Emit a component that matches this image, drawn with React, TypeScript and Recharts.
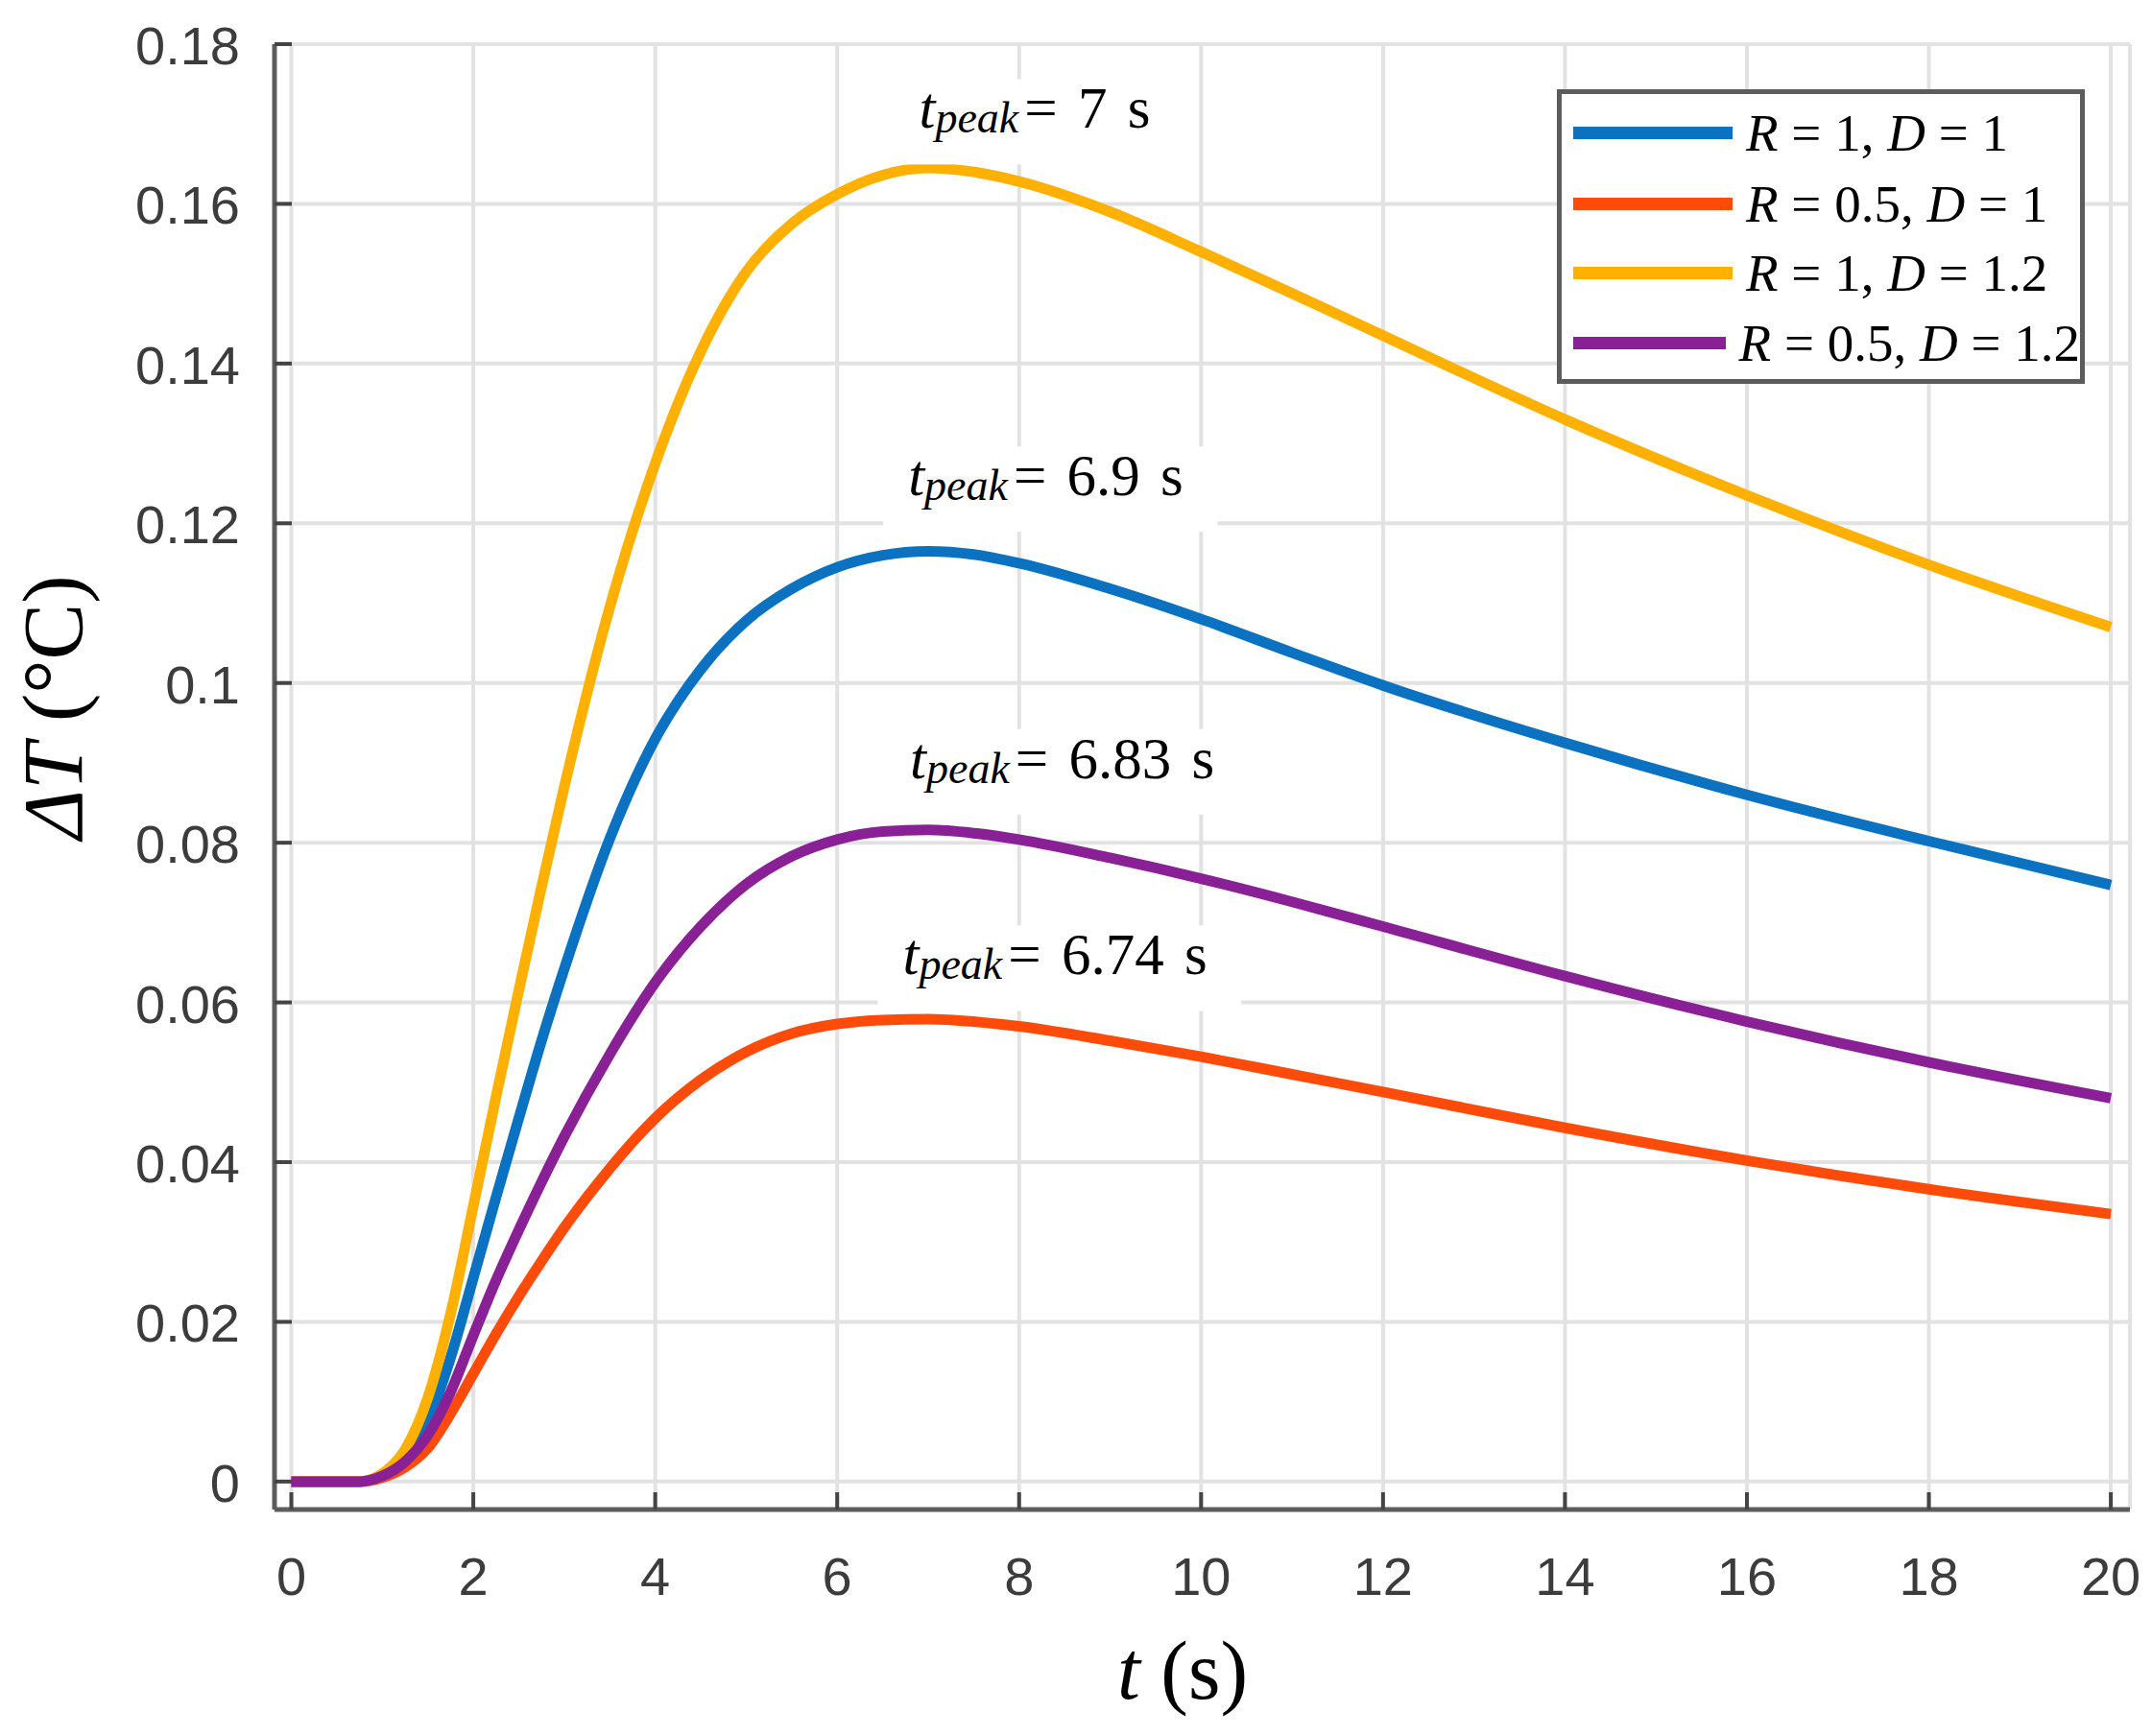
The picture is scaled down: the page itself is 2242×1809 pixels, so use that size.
import { CartesianGrid, Line, LineChart, ReferenceDot, XAxis, YAxis } from 'recharts'

// time axis (s)
const timeS = [0, 0.5, 0.75, 1, 1.25, 1.5, 1.75, 2, 2.25, 2.5, 2.75, 3, 3.5, 4, 4.5, 5, 5.5, 6, 6.5, 7, 7.5, 8, 9, 10, 11, 12, 14, 16, 18, 20]

// ΔT (°C)
const dtR1D1 = [0, 0, 0, 0.0008, 0.003, 0.0075, 0.0155, 0.0255, 0.0356, 0.0455, 0.0552, 0.0642, 0.0805, 0.093, 0.1017, 0.1078, 0.1118, 0.1145, 0.116, 0.1165, 0.1161, 0.115, 0.1118, 0.108, 0.1038, 0.0997, 0.0925, 0.086, 0.0802, 0.0747]
const dtR05D1 = [0, 0, 0, 0.0005, 0.0018, 0.0042, 0.0085, 0.0135, 0.0185, 0.0232, 0.0276, 0.0318, 0.0392, 0.0455, 0.0503, 0.0538, 0.0561, 0.0573, 0.0578, 0.0579, 0.0576, 0.057, 0.0552, 0.0532, 0.051, 0.0488, 0.0443, 0.0402, 0.0366, 0.0335]
const dtR1D12 = [0, 0, 0, 0.001, 0.004, 0.0105, 0.021, 0.0345, 0.0482, 0.0615, 0.0745, 0.087, 0.1095, 0.1275, 0.1415, 0.1515, 0.1575, 0.1612, 0.1636, 0.1645, 0.164, 0.1628, 0.159, 0.154, 0.1488, 0.1435, 0.133, 0.1235, 0.1148, 0.107]
const dtR05D12 = [0, 0, 0, 0.0007, 0.0025, 0.0058, 0.0112, 0.0183, 0.0252, 0.0315, 0.0375, 0.0432, 0.0535, 0.0625, 0.0695, 0.0748, 0.0783, 0.0804, 0.0814, 0.0816, 0.0812, 0.0804, 0.0781, 0.0755, 0.0726, 0.0695, 0.0633, 0.0576, 0.0525, 0.048]

const xTicks = [0, 2, 4, 6, 8, 10, 12, 14, 16, 18, 20]
const yTicks = [0, 0.02, 0.04, 0.06, 0.08, 0.1, 0.12, 0.14, 0.16, 0.18]

// legend parameters
const legendR = ['1', '0.5', '1', '0.5']
const legendD = ['1', '1', '1.2', '1.2']

// peak annotations
const peakLabels = ['7', '6.9', '6.83', '6.74']
const peakAnchorT = [6.9, 6.78, 6.8, 6.72]
const peakAnchorY = [0.1695, 0.1235, 0.0881, 0.0635]

const series = [
  { key: 'r1d1', values: dtR1D1, color: '#0a72c0' },
  { key: 'r05d1', values: dtR05D1, color: '#ff4b0a' },
  { key: 'r1d12', values: dtR1D12, color: '#ffb000' },
  { key: 'r05d12', values: dtR05D12, color: '#8a2096' }
]

const data = timeS.map((t, i) => {
  const row: Record<string, number> = { t }
  series.forEach((s) => {
    row[s.key] = s.values[i]
  })
  return row
})

const W = 2242
const H = 1809
const TICK_COLOR = '#3c3c3c'
const FRAME = '#5c5c5c'
const SERIF = '"Liberation Serif", "Times New Roman", serif'
const SANS = '"Liberation Sans", Arial, sans-serif'

const fmt = (v: number) => String(+v.toFixed(2))

const BottomTick = ({ x, y, payload }: any) => (
  <g>
    <line x1={x} x2={x} y1={y} y2={y - 18} stroke="#444" strokeWidth={4} />
    <text x={x} y={y + 89} textAnchor="middle" fontFamily={SANS} fontSize={56} fill={TICK_COLOR}>
      {fmt(payload.value)}
    </text>
  </g>
)

const TopTick = ({ x, y }: any) => (
  <line x1={x} x2={x} y1={y} y2={y + 18} stroke="#444" strokeWidth={4} />
)

const LeftTick = ({ x, y, payload }: any) => (
  <g>
    <line x1={x} x2={x + 18} y1={y} y2={y} stroke="#444" strokeWidth={4} />
    <text x={x - 36} y={y + 21} textAnchor="end" fontFamily={SANS} fontSize={56} fill={TICK_COLOR}>
      {fmt(payload.value)}
    </text>
  </g>
)

const RightTick = ({ x, y }: any) => (
  <line x1={x} x2={x - 18} y1={y} y2={y} stroke="#444" strokeWidth={4} />
)

const YTitle = () => (
  <text transform="translate(85, 737) rotate(-90)" textAnchor="middle" fontFamily={SERIF} fontSize={88} fill="#000">
    <tspan fontStyle="italic">ΔT</tspan> (°C)
  </text>
)

const XTitle = () => (
  <text x={1232} y={1770} textAnchor="middle" fontFamily={SERIF} fontSize={86} fill="#000">
    <tspan fontStyle="italic">t</tspan> (s)
  </text>
)

const PeakText = ({ viewBox, value }: any) => {
  const x = viewBox.x
  const y = viewBox.y
  const digits = value.replace('.', '').length
  const dots = value.includes('.') ? 1 : 0
  const width = 224 + 61 * (digits * 0.5 + dots * 0.25)
  return (
    <g>
      <rect x={x - 26} y={y - 51} width={width + 48} height={89} fill="#fff" />
      <text x={x} y={y} fontFamily={SERIF} fontSize={61} fill="#000">
        <tspan fontStyle="italic">t</tspan>
        <tspan fontStyle="italic" fontSize={46} dy={5}>peak</tspan>
        <tspan dy={-5} dx={6} wordSpacing={6}>{`= ${value} s`}</tspan>
      </text>
    </g>
  )
}

const LegendBox = () => (
  <div
    style={{
      position: 'absolute',
      left: 1622,
      top: 93,
      width: 550,
      height: 307,
      boxSizing: 'border-box',
      border: `5px solid ${FRAME}`,
      background: '#fff'
    }}
  >
    {series.map((s, i) => (
      <div
        key={s.key}
        style={{
          position: 'absolute',
          left: 0,
          top: [45, 119, 191, 264][i] - 5 - 37,
          height: 74,
          width: 540,
          display: 'flex',
          alignItems: 'center'
        }}
      >
        <div style={{ marginLeft: 12, width: 166, height: 13, background: s.color }} />
        <div style={{ marginLeft: 14, fontFamily: SERIF, fontSize: 55, color: '#000', whiteSpace: 'nowrap' }}>
          <i>R</i> = {legendR[i]}, <i>D</i> = {legendD[i]}
        </div>
      </div>
    ))}
  </div>
)

export default function App() {
  return (
    <div style={{ position: 'relative', width: W, height: H, background: '#fff' }}>
      <style>{'body{margin:0}'}</style>
      <LineChart width={W} height={H} data={data} margin={{ top: 46, right: 23, bottom: 0, left: 0 }}>
        <CartesianGrid stroke="#e2e2e2" strokeWidth={4} />
        <XAxis
          dataKey="t"
          type="number"
          domain={[-0.185, 20.21]}
          ticks={xTicks}
          height={236}
          tickSize={0}
          tickMargin={0}
          tickLine={false}
          axisLine={{ stroke: FRAME, strokeWidth: 5 }}
          tick={<BottomTick />}
          interval={0}
          allowDataOverflow
          label={<XTitle />}
        />
        <XAxis
          xAxisId="top"
          orientation="top"
          dataKey="t"
          type="number"
          domain={[-0.185, 20.21]}
          ticks={xTicks}
          height={0}
          tickSize={0}
          tickMargin={0}
          tickLine={false}
          axisLine={{ stroke: FRAME, strokeWidth: 5 }}
          tick={<TopTick />}
          interval={0}
          allowDataOverflow
        />
        <YAxis
          type="number"
          domain={[-0.0035, 0.18]}
          ticks={yTicks}
          width={286}
          tickSize={0}
          tickMargin={0}
          tickLine={false}
          axisLine={{ stroke: FRAME, strokeWidth: 5 }}
          tick={<LeftTick />}
          interval={0}
          allowDataOverflow
          label={<YTitle />}
        />
        <YAxis
          yAxisId="right"
          orientation="right"
          type="number"
          domain={[-0.0035, 0.18]}
          ticks={yTicks}
          width={0}
          tickSize={0}
          tickMargin={0}
          tickLine={false}
          axisLine={{ stroke: FRAME, strokeWidth: 5 }}
          tick={<RightTick />}
          interval={0}
          allowDataOverflow
        />
        {series.map((s) => (
          <Line
            key={s.key}
            type="monotone"
            dataKey={s.key}
            stroke={s.color}
            strokeWidth={11}
            dot={false}
            activeDot={false}
            isAnimationActive={false}
          />
        ))}
        {peakLabels.map((v, i) => (
          <ReferenceDot
            key={v}
            x={peakAnchorT[i]}
            y={peakAnchorY[i]}
            r={0}
            fill="none"
            stroke="none"
            label={<PeakText value={v} />}
          />
        ))}
      </LineChart>
      <LegendBox />
    </div>
  )
}
